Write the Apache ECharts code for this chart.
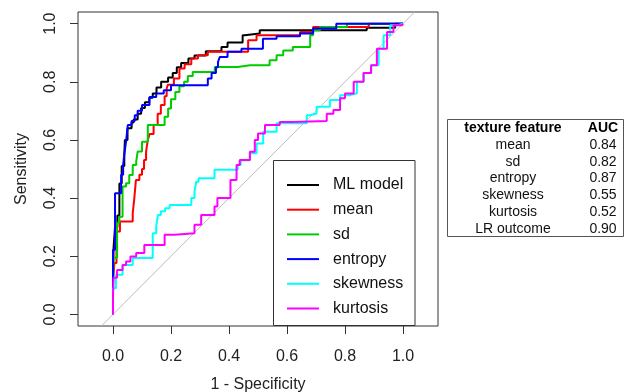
<!DOCTYPE html>
<html><head><meta charset="utf-8">
<script src="https://cdn.jsdelivr.net/npm/echarts@6/dist/echarts.min.js"></script>
<style>html,body{margin:0;padding:0;background:#fff}#c{width:633px;height:392px}</style>
</head><body><div id="c"></div>
<script>
// ---- data ----
const seriesNames = ['ML model', 'mean', 'sd', 'entropy', 'skewness', 'kurtosis'];
const seriesColors = ['#000000', '#ff0000', '#00cc00', '#0000ff', '#00ffff', '#ff00ff'];
const xTicks = [0, 0.2, 0.4, 0.6, 0.8, 1.0];
const yTicks = [0, 0.2, 0.4, 0.6, 0.8, 1.0];
const diagLine = [[-0.04, -0.04], [1.04, 1.04]];

const mlModel = [[0,0],[0.002,0.11],[0.007,0.23],[0.015,0.30],[0.022,0.34],[0.03,0.45],[0.039,0.51],[0.041,0.55],[0.05,0.60],[0.064,0.64],[0.071,0.66],[0.085,0.67],[0.097,0.69],[0.11,0.71],[0.125,0.73],[0.137,0.745],[0.15,0.76],[0.166,0.78],[0.19,0.80],[0.206,0.815],[0.22,0.83],[0.235,0.85],[0.26,0.865],[0.281,0.88],[0.32,0.89],[0.374,0.905],[0.395,0.92],[0.447,0.935],[0.454,0.96],[0.506,0.966],[0.875,0.977],[0.875,0.986],[0.973,0.986],[1,1]];
const mean = [[0,0],[0.005,0.12],[0.012,0.177],[0.014,0.222],[0.024,0.285],[0.033,0.319],[0.068,0.319],[0.073,0.348],[0.079,0.394],[0.091,0.462],[0.1,0.48],[0.107,0.50],[0.114,0.531],[0.12,0.56],[0.126,0.6],[0.14,0.62],[0.154,0.651],[0.165,0.69],[0.178,0.72],[0.185,0.75],[0.189,0.777],[0.21,0.79],[0.229,0.811],[0.247,0.846],[0.27,0.86],[0.293,0.88],[0.327,0.891],[0.374,0.903],[0.466,0.903],[0.472,0.943],[0.495,0.943],[0.645,0.96],[0.69,0.971],[0.714,0.988],[0.882,0.988],[1,1]];
const sd = [[0,0],[0.002,0.126],[0.014,0.195],[0.022,0.315],[0.033,0.336],[0.045,0.44],[0.056,0.451],[0.068,0.479],[0.08,0.514],[0.085,0.525],[0.1,0.56],[0.12,0.594],[0.137,0.651],[0.178,0.651],[0.19,0.68],[0.2,0.708],[0.215,0.74],[0.229,0.765],[0.245,0.785],[0.258,0.80],[0.275,0.82],[0.287,0.834],[0.351,0.834],[0.43,0.851],[0.472,0.857],[0.54,0.857],[0.564,0.874],[0.587,0.891],[0.62,0.908],[0.68,0.92],[0.69,0.96],[0.714,0.977],[0.807,0.988],[1,1]];
const entropy = [[0,0],[0,0.222],[0.007,0.222],[0.007,0.417],[0.028,0.417],[0.035,0.48],[0.039,0.514],[0.045,0.55],[0.051,0.594],[0.064,0.651],[0.075,0.665],[0.085,0.685],[0.1,0.70],[0.126,0.72],[0.149,0.748],[0.175,0.76],[0.2,0.771],[0.247,0.788],[0.327,0.788],[0.34,0.811],[0.355,0.83],[0.362,0.85],[0.368,0.868],[0.395,0.885],[0.443,0.903],[0.472,0.914],[0.517,0.914],[0.564,0.948],[0.645,0.957],[0.69,0.966],[0.77,0.983],[0.99,1.0],[1,1]];
const skewness = [[0,0],[0.01,0.09],[0.033,0.136],[0.045,0.17],[0.068,0.17],[0.099,0.194],[0.137,0.194],[0.149,0.279],[0.155,0.302],[0.165,0.342],[0.18,0.355],[0.195,0.365],[0.27,0.376],[0.281,0.40],[0.287,0.422],[0.295,0.456],[0.35,0.468],[0.362,0.497],[0.43,0.497],[0.44,0.514],[0.472,0.53],[0.495,0.554],[0.518,0.588],[0.564,0.628],[0.633,0.657],[0.668,0.657],[0.679,0.685],[0.702,0.691],[0.748,0.714],[0.783,0.737],[0.818,0.754],[0.841,0.76],[0.864,0.80],[0.89,0.83],[0.916,0.857],[0.933,0.914],[0.956,0.96],[0.979,0.994],[1,1]];
const kurtosis = [[0,0],[0.002,0.068],[0.014,0.126],[0.033,0.153],[0.045,0.17],[0.06,0.182],[0.08,0.199],[0.108,0.211],[0.12,0.239],[0.178,0.239],[0.212,0.274],[0.281,0.279],[0.287,0.308],[0.304,0.308],[0.318,0.342],[0.35,0.342],[0.36,0.371],[0.385,0.40],[0.405,0.40],[0.408,0.462],[0.426,0.462],[0.437,0.514],[0.472,0.531],[0.489,0.559],[0.50,0.60],[0.524,0.622],[0.575,0.651],[0.62,0.662],[0.737,0.665],[0.76,0.69],[0.783,0.703],[0.80,0.743],[0.83,0.76],[0.864,0.80],[0.89,0.83],[0.91,0.857],[0.945,0.914],[0.967,0.971],[0.997,0.994],[1,1]];

const tableHeader = ['texture feature', 'AUC'];
const tableFeatures = ['mean', 'sd', 'entropy', 'skewness', 'kurtosis', 'LR outcome'];
const tableAUC = ['0.84', '0.82', '0.87', '0.55', '0.52', '0.90'];

// ---- chart ----
const FONT = '"Liberation Sans", Arial, Helvetica, sans-serif';
const curves = [mlModel, mean, sd, entropy, skewness, kurtosis];

const series = [{
  type: 'line', name: 'diag', data: diagLine, symbol: 'none', silent: true,
  lineStyle: { color: '#bdbdbd', width: 1 }, z: 1
}].concat(curves.map((d, i) => ({
  type: 'line', name: seriesNames[i], data: d, step: 'start', symbol: 'none',
  lineStyle: { color: seriesColors[i], width: 2 }, itemStyle: { color: seriesColors[i] }, z: 2 + i
})));

const graphics = [
  { type: 'rect', z: 50, shape: { x: 273.5, y: 160.5, width: 141.5, height: 165 },
    style: { fill: '#ffffff', stroke: '#333333', lineWidth: 1 } },
  { type: 'rect', z: 50, shape: { x: 447.5, y: 119.5, width: 176, height: 117 },
    style: { fill: '#ffffff', stroke: '#555555', lineWidth: 1 } },
  { type: 'text', z: 51, x: 513, y: 128, style: { text: tableHeader[0], font: 'bold 14px ' + FONT, fill: '#000', align: 'center', verticalAlign: 'middle' } },
  { type: 'text', z: 51, x: 603, y: 128, style: { text: tableHeader[1], font: 'bold 14px ' + FONT, fill: '#000', align: 'center', verticalAlign: 'middle' } }
];
tableFeatures.forEach((f, i) => {
  const y = 145 + 16.8 * i;
  graphics.push({ type: 'text', z: 51, x: 513, y: y, style: { text: f, font: '14px ' + FONT, fill: '#111', align: 'center', verticalAlign: 'middle' } });
  graphics.push({ type: 'text', z: 51, x: 603, y: y, style: { text: tableAUC[i], font: '14px ' + FONT, fill: '#111', align: 'center', verticalAlign: 'middle' } });
});

const chart = echarts.init(document.getElementById('c'), null, { renderer: 'canvas' });
chart.setOption({
  animation: false,
  backgroundColor: '#ffffff',
  textStyle: { fontFamily: FONT },
  grid: { left: 78, top: 12, width: 360, height: 314, show: true, borderColor: '#333', borderWidth: 1, containLabel: false, outerBoundsMode: 'none' },
  xAxis: {
    type: 'value', min: -0.1207, max: 1.1207,
    axisLine: { show: false, onZero: false }, splitLine: { show: false },
    axisTick: { show: true, inside: false, customValues: xTicks, length: 8, lineStyle: { color: '#333' } },
    axisLabel: { customValues: xTicks, formatter: v => v.toFixed(1), fontSize: 16, margin: 23, color: '#222', fontFamily: FONT },
    name: '1 - Specificity', nameLocation: 'middle', nameGap: 51,
    nameTextStyle: { fontSize: 16, color: '#222', fontFamily: FONT }
  },
  yAxis: {
    type: 'value', min: -0.04, max: 1.04,
    axisLine: { show: false, onZero: false }, splitLine: { show: false },
    axisTick: { show: true, inside: false, customValues: yTicks, length: 8, lineStyle: { color: '#333' } },
    axisLabel: { customValues: yTicks, formatter: v => v.toFixed(1), fontSize: 16, margin: 19, rotate: 90, color: '#222', fontFamily: FONT },
    name: 'Sensitivity', nameLocation: 'middle', nameGap: 48, nameRotate: 90,
    nameTextStyle: { fontSize: 16, color: '#222', fontFamily: FONT }
  },
  legend: {
    data: seriesNames, orient: 'vertical', left: 287, top: 176, padding: 0,
    itemWidth: 32, itemHeight: 2, itemGap: 6.7, icon: 'rect', selectedMode: false, z: 60,
    textStyle: { fontSize: 16, lineHeight: 18, color: '#111', fontFamily: FONT, padding: [0, 0, 0, 9] }
  },
  graphic: graphics,
  series: series
});
</script>
</body></html>
